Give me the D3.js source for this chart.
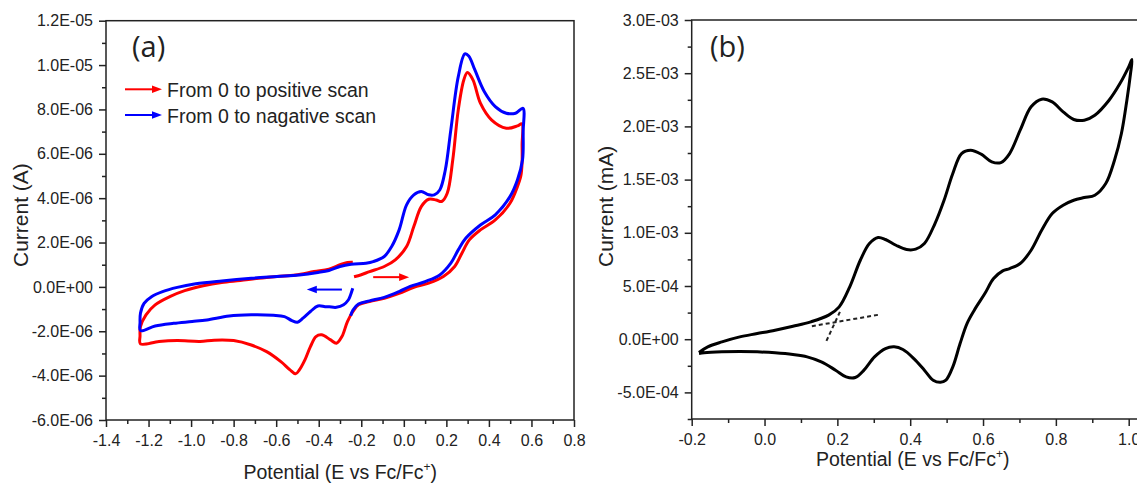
<!DOCTYPE html>
<html><head><meta charset="utf-8">
<script src="https://cdn.jsdelivr.net/npm/d3@7"></script>
<style>
body{margin:0;background:#fff}
svg{display:block}
text{font-family:"Liberation Sans",Arial,sans-serif;fill:#222}
</style>
</head><body>
<svg id="c" width="1137" height="483"></svg>
<script>
// ---------- Panel (a) data: potential (V) and current (µA) ----------
const redV = [-0.234,-0.2,-0.161,-0.092,-0.04,0.013,0.047,0.082,0.117,0.152,0.178,0.204,0.23,0.256,0.282,0.299,0.325,0.36,0.412,0.482,0.534,0.555,
  0.556,0.556,0.55,0.534,0.499,0.43,0.36,0.308,0.273,0.239,0.186,0.117,0.047,-0.022,-0.092,-0.161,-0.213,-0.239,-0.265,-0.291,-0.317,-0.344,-0.387,-0.413,-0.439,-0.465,-0.491,-0.509,-0.535,-0.578,-0.645,-0.717,-0.8,-0.891,-0.958,-1.065,-1.151,-1.238,
  -1.24,-1.238,-1.212,-1.169,-1.1,-1.03,-0.943,-0.856,-0.769,-0.682,-0.596,-0.509,-0.422,-0.352,-0.3,-0.265,-0.24];
const redI = [0.46,0.55,0.69,0.92,1.22,1.82,2.72,3.62,3.95,3.92,3.85,4.22,5.72,7.98,9.33,9.66,9.33,8.28,7.53,7.15,7.26,7.35,
  6.4,5.6,5.0,4.52,3.77,3.02,2.57,2.12,1.52,0.92,0.47,0.17,-0.02,-0.29,-0.51,-0.66,-0.81,-1.11,-1.56,-2.24,-2.54,-2.39,-2.16,-2.24,-2.69,-3.29,-3.74,-3.92,-3.74,-3.37,-2.92,-2.62,-2.42,-2.4,-2.46,-2.42,-2.46,-2.57,
  -2.2,-1.79,-1.26,-0.81,-0.44,-0.17,0.05,0.2,0.29,0.39,0.47,0.54,0.69,0.8,1.0,1.1,1.11];

const blueV = [-0.24,-0.25,-0.261,-0.283,-0.317,-0.35,-0.37,-0.404,-0.439,-0.474,-0.5,-0.526,-0.561,-0.613,-0.717,-0.821,-0.926,-0.995,-1.082,-1.169,-1.238,
  -1.24,-1.238,-1.221,-1.186,-1.134,-1.065,-0.978,-0.856,-0.717,-0.596,-0.491,-0.404,-0.352,-0.3,-0.248,-0.178,-0.144,-0.092,-0.057,-0.022,0.013,0.047,0.082,0.117,0.143,0.169,0.195,0.221,0.256,0.287,0.305,0.334,0.378,0.43,0.482,0.525,0.56,
  0.561,0.558,0.534,0.499,0.43,0.36,0.291,0.256,0.221,0.169,0.1,0.03,-0.022,-0.092,-0.161,-0.213,-0.239,-0.25];
const blueI = [-0.06,-0.35,-0.59,-0.8,-0.92,-0.9,-0.89,-0.86,-1.11,-1.41,-1.59,-1.52,-1.34,-1.28,-1.26,-1.31,-1.49,-1.56,-1.64,-1.76,-1.97,
  -1.6,-1.19,-0.74,-0.44,-0.21,-0.02,0.14,0.27,0.39,0.47,0.54,0.65,0.74,0.92,1.02,1.07,1.14,1.37,1.82,2.57,3.7,4.15,4.3,4.15,4.15,4.37,5.27,7.08,9.48,10.5,10.41,9.78,8.81,8.13,7.83,7.83,8.05,
  7.0,5.73,4.82,4.07,3.25,2.79,2.19,1.67,1.07,0.54,0.24,0.02,-0.21,-0.47,-0.63,-0.77,-1.04,-1.3];

// in-plot scan direction arrows [V0, V1, I]
const redArrow = [-0.144, 0.025, 0.44];
const blueArrow = [-0.291, -0.456, -0.12];

// ---------- Panel (b) data: potential (V) and current (×1E-03 mA) ----------
const blackV = [-0.18,-0.156,-0.117,-0.068,-0.02,0.029,0.078,0.127,0.176,0.205,0.234,0.263,0.288,0.312,0.332,0.361,0.39,0.415,0.439,0.468,0.493,0.517,0.541,0.566,0.595,0.624,0.649,0.673,0.702,0.732,0.761,0.79,0.82,0.849,0.878,0.907,0.946,0.976,1.0,1.009,
  1.005,0.995,0.98,0.961,0.937,0.907,0.878,0.849,0.82,0.79,0.761,0.732,0.702,0.673,0.654,0.629,0.605,0.576,0.556,0.537,0.517,0.498,0.483,0.463,0.439,0.41,0.38,0.356,0.332,0.302,0.273,0.249,0.224,0.195,0.156,0.117,0.078,0.029,-0.02,-0.068,-0.117,-0.166,-0.18];
const blackI = [-0.125,-0.072,-0.025,0.022,0.053,0.085,0.122,0.163,0.226,0.304,0.492,0.742,0.899,0.956,0.937,0.883,0.843,0.846,0.899,1.087,1.306,1.557,1.745,1.776,1.739,1.667,1.66,1.745,1.964,2.184,2.256,2.23,2.137,2.065,2.058,2.105,2.246,2.403,2.56,2.629,
  2.497,2.246,1.933,1.682,1.463,1.353,1.331,1.306,1.259,1.181,1.024,0.836,0.711,0.664,0.642,0.57,0.429,0.273,0.147,-0.041,-0.26,-0.385,-0.405,-0.385,-0.291,-0.182,-0.097,-0.072,-0.088,-0.166,-0.291,-0.36,-0.354,-0.291,-0.213,-0.166,-0.144,-0.128,-0.119,-0.116,-0.119,-0.128,-0.135];

// onset tangent lines [[V0,I0],[V1,I1]]
const tangent1 = [[0.13,0.122],[0.317,0.232]];
const tangent2 = [[0.17,-0.016],[0.207,0.257]];

// ---------- ticks ----------
const aXTicks = [-1.4,-1.2,-1.0,-0.8,-0.6,-0.4,-0.2,0.0,0.2,0.4,0.6,0.8];
const aXLabels = ["-1.4","-1.2","-1.0","-0.8","-0.6","-0.4","-0.2","0.0","0.2","0.4","0.6","0.8"];
const aXMinor = [-1.3,-1.1,-0.9,-0.7,-0.5,-0.3,-0.1,0.1,0.3,0.5,0.7];
const aYTicks = [12,10,8,6,4,2,0,-2,-4,-6];
const aYLabels = ["1.2E-05","1.0E-05","8.0E-06","6.0E-06","4.0E-06","2.0E-06","0.0E+00","-2.0E-06","-4.0E-06","-6.0E-06"];
const aYMinor = [11,9,7,5,3,1,-1,-3,-5];

const bXTicks = [-0.2,0.0,0.2,0.4,0.6,0.8,1.0];
const bXLabels = ["-0.2","0.0","0.2","0.4","0.6","0.8","1.0"];
const bXMinor = [-0.1,0.1,0.3,0.5,0.7,0.9];
const bYTicks = [3.0,2.5,2.0,1.5,1.0,0.5,0.0,-0.5];
const bYLabels = ["3.0E-03","2.5E-03","2.0E-03","1.5E-03","1.0E-03","5.0E-04","0.0E+00","-5.0E-04"];
const bYMinor = [2.75,2.25,1.75,1.25,0.75,0.25,-0.25,-0.75];

const svg = d3.select("#c");
const AX = "#222";

function styleAxis(g){
  g.select(".domain").remove();
  g.selectAll(".tick line").attr("stroke",AX).attr("stroke-width",1.5);
  g.selectAll(".tick text").style("font-size","16px").style("font-family",'"Liberation Sans",Arial,sans-serif').attr("fill","#222");
}

function drawAxes(x, y, xT, xL, xM, yT, yL, yM){
  const [x0] = x.range(); const [y0] = y.range();
  svg.append("g").attr("transform",`translate(0,${y0})`)
    .call(d3.axisBottom(x).tickValues(xM).tickSize(4).tickFormat("")).call(styleAxis);
  svg.append("g").attr("transform",`translate(0,${y0})`)
    .call(d3.axisBottom(x).tickValues(xT).tickSize(7).tickPadding(8).tickFormat((d,i)=>xL[i])).call(styleAxis);
  svg.append("g").attr("transform",`translate(${x0},0)`)
    .call(d3.axisLeft(y).tickValues(yM).tickSize(4).tickFormat("")).call(styleAxis);
  svg.append("g").attr("transform",`translate(${x0},0)`)
    .call(d3.axisLeft(y).tickValues(yT).tickSize(7).tickPadding(6).tickFormat((d,i)=>yL[i])).call(styleAxis);
}

// ---------- Panel (a) ----------
const xA = d3.scaleLinear().domain([-1.4,0.8]).range([106,574]);
const yA = d3.scaleLinear().domain([-6,12]).range([420,20.7]);
drawAxes(xA,yA,aXTicks,aXLabels,aXMinor,aYTicks,aYLabels,aYMinor);
svg.append("rect").attr("x",xA(-1.4)).attr("y",yA(12)).attr("width",xA(0.8)-xA(-1.4)).attr("height",yA(-6)-yA(12))
  .attr("fill","none").attr("stroke",AX).attr("stroke-width",1.5);

const lineA = d3.line().x(d=>xA(d[0])).y(d=>yA(d[1])).curve(d3.curveCatmullRom.alpha(0.5));
svg.append("path").datum(redV.map((v,i)=>[v,redI[i]])).attr("d",lineA)
  .attr("fill","none").attr("stroke","#f00").attr("stroke-width",3).attr("stroke-linejoin","round");
svg.append("path").datum(blueV.map((v,i)=>[v,blueI[i]])).attr("d",lineA)
  .attr("fill","none").attr("stroke","#00f").attr("stroke-width",3).attr("stroke-linejoin","round");

function arrow(x1,y1,x2,y2,color){
  const dir = Math.sign(x2-x1), head = 10, hw = 3.8;
  svg.append("line").attr("x1",x1).attr("y1",y1).attr("x2",x2-dir*head*0.8).attr("y2",y2)
    .attr("stroke",color).attr("stroke-width",2);
  svg.append("path").attr("d",`M${x2},${y2}L${x2-dir*head},${y2-hw}L${x2-dir*head},${y2+hw}Z`).attr("fill",color);
}
arrow(xA(redArrow[0]),yA(redArrow[2]),xA(redArrow[1]),yA(redArrow[2]),"#f00");
arrow(xA(blueArrow[0]),yA(blueArrow[2]),xA(blueArrow[1]),yA(blueArrow[2]),"#00f");

// legend
arrow(125,89.3,162,89.3,"#f00");
arrow(125,115,162,115,"#00f");
svg.append("text").attr("x",167).attr("y",96.5).style("font-size","19.5px").text("From 0 to positive scan");
svg.append("text").attr("x",167).attr("y",122.5).style("font-size","19.5px").text("From 0 to nagative scan");

svg.append("text").attr("x",132).attr("y",57).style("font-size","29px").style("font-family",'"Open Sans",sans-serif').text("(a)");

// axis titles (a)
svg.append("text").attr("transform","translate(28,267) rotate(-90)").style("font-size","21px").text("Current (A)");
const tA = svg.append("text").attr("x",243.5).attr("y",478.5).style("font-size","19.5px");
tA.append("tspan").text("Potential (E vs Fc/Fc");
tA.append("tspan").attr("dy",-8).style("font-size","12px").text("+");
tA.append("tspan").attr("dy",8).text(")");

// ---------- Panel (b) ----------
const xB = d3.scaleLinear().domain([-0.2,1.0]).range([691.7,1128.7]);
const yB = d3.scaleLinear().domain([-0.75,3.0]).range([419,20]);
drawAxes(xB,yB,bXTicks,bXLabels,bXMinor,bYTicks,bYLabels,bYMinor);
svg.append("rect").attr("x",xB(-0.2)).attr("y",yB(3.0)).attr("width",xB(1.1)-xB(-0.2)).attr("height",yB(-0.75)-yB(3.0))
  .attr("fill","none").attr("stroke",AX).attr("stroke-width",1.5);

const lineB = d3.line().x(d=>xB(d[0])).y(d=>yB(d[1])).curve(d3.curveCatmullRom.alpha(0.5));
svg.append("path").datum(blackV.map((v,i)=>[v,blackI[i]])).attr("d",lineB)
  .attr("fill","none").attr("stroke","#000").attr("stroke-width",3).attr("stroke-linejoin","round");
[tangent1,tangent2].forEach(t=>{
  svg.append("path").datum(t).attr("d",d3.line().x(d=>xB(d[0])).y(d=>yB(d[1])))
    .attr("fill","none").attr("stroke","#222").attr("stroke-width",2).attr("stroke-dasharray","4,3");
});

svg.append("text").attr("x",710).attr("y",57).style("font-size","29px").style("font-family",'"Open Sans",sans-serif').text("(b)");
svg.append("text").attr("transform","translate(613,267) rotate(-90)").style("font-size","21px").text("Current (mA)");
const tB = svg.append("text").attr("x",816).attr("y",466).style("font-size","19.5px");
tB.append("tspan").text("Potential (E vs Fc/Fc");
tB.append("tspan").attr("dy",-8).style("font-size","12px").text("+");
tB.append("tspan").attr("dy",8).text(")");
</script>
</body></html>
